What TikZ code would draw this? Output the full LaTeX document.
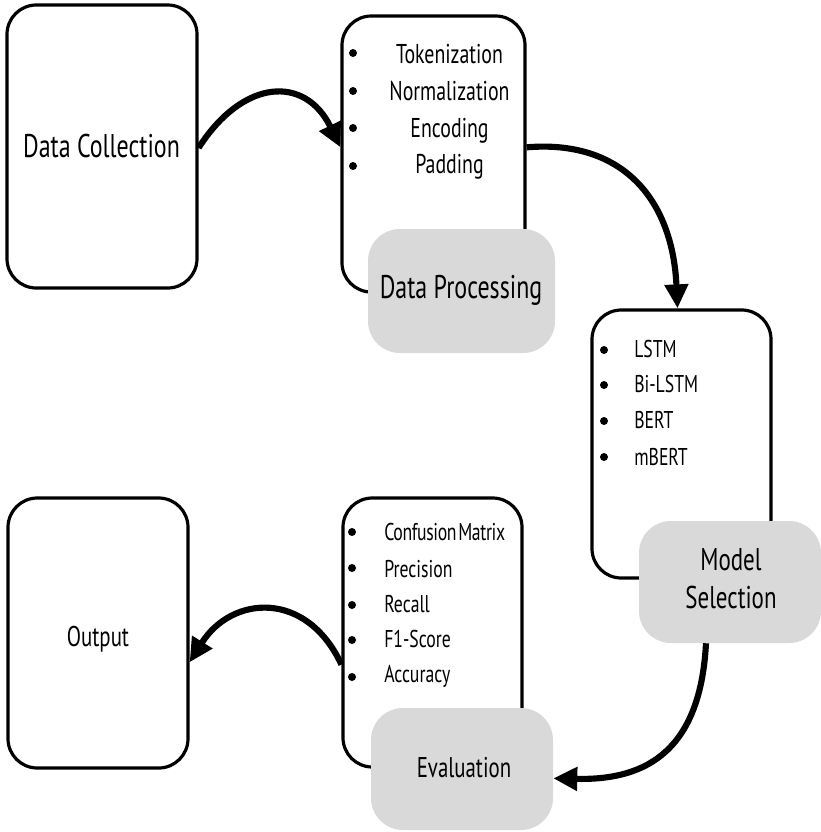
\documentclass[tikz,border=0pt]{standalone}
\usepackage{fontspec}
\usetikzlibrary{arrows.meta}
\newfontfamily\nf[FakeStretch=0.73]{PT Sans}
\definecolor{lblgrey}{HTML}{D9D9D9}
\begin{document}
\begin{tikzpicture}[x=0.75pt,y=-0.75pt,
  stepbox/.style={draw=black,line width=2.4pt,fill=white,rounded corners=22pt,inner sep=0pt},
  lblbox/.style={fill=lblgrey,draw=none,rounded corners=24pt,inner sep=0pt},
  bigtxt/.style={font=\nf\fontsize{24.6}{28}\selectfont,inner sep=0pt,anchor=base},
  midtxt/.style={font=\nf\fontsize{21.4}{25}\selectfont,inner sep=0pt,anchor=base},
  itemtxt/.style={font=\nf\fontsize{20.4}{24}\selectfont,inner sep=0pt,anchor=base},
  smalltxt/.style={font=\nf\fontsize{18.2}{22}\selectfont,inner sep=0pt,anchor=base west},
  bul/.style={circle,fill=black,inner sep=0pt,minimum size=6pt},
  conn/.style={line width=4.6pt,-{Triangle[length=18pt,width=17pt]}}]
\useasboundingbox (0,0) rectangle (821,832);

% boxes
\node[stepbox,minimum width=190*0.75pt,minimum height=283*0.75pt] (dc) at (102,146.5) {};
\node[stepbox,minimum width=183*0.75pt,minimum height=276*0.75pt] (dp) at (433.5,154) {};
\node[stepbox,minimum width=179*0.75pt,minimum height=268*0.75pt] (ms) at (681.5,444) {};
\node[stepbox,minimum width=179*0.75pt,minimum height=269*0.75pt] (ev) at (432.5,632.5) {};
\node[stepbox,minimum width=180*0.75pt,minimum height=270*0.75pt] (op) at (98,633) {};

% grey labels
\node[lblbox,minimum width=187*0.75pt,minimum height=124*0.75pt] (dpl) at (461.5,291) {};
\node[lblbox,minimum width=182*0.75pt,minimum height=122*0.75pt] (msl) at (730,582) {};
\node[lblbox,minimum width=182*0.75pt,minimum height=122*0.75pt] (evl) at (462,769) {};

% main texts
\node[bigtxt] (dct) at (101.5,157) {Data Collection};
\node[bigtxt] (dplt) at (461,298) {Data Processing};
\node[bigtxt,font=\nf\fontsize{23.6}{28}\selectfont] (mslt1) at (731,570) {Model};
\node[bigtxt,font=\nf\fontsize{23.6}{28}\selectfont] (mslt2) at (731,608) {Selection};
\node[midtxt] (evlt) at (464,777) {Evaluation};
\node[midtxt] (opt) at (98,646) {Output};

% data processing list
\node[itemtxt] (dp1) at (449.5,63) {Tokenization};
\node[itemtxt] (dp2) at (449.5,100) {Normalization};
\node[itemtxt] (dp3) at (449.5,137) {Encoding};
\node[itemtxt] (dp4) at (449.5,173) {Padding};
\node[bul] (dpb1) at (353,53) {};
\node[bul] (dpb2) at (353,91) {};
\node[bul] (dpb3) at (353,128) {};
\node[bul] (dpb4) at (353,166) {};

% model list
\node[smalltxt] (ms1) at (634,357) {LSTM};
\node[smalltxt] (ms2) at (634,392) {Bi-LSTM};
\node[smalltxt] (ms3) at (634,428) {BERT};
\node[smalltxt] (ms4) at (634,465) {mBERT};
\node[bul] (msb1) at (604,350) {};
\node[bul] (msb2) at (604,385) {};
\node[bul] (msb3) at (604,421) {};
\node[bul] (msb4) at (604,457) {};

% evaluation list
\node[smalltxt] (ev1) at (384,540) {\addfontfeature{LetterSpace=-1.5}Confusion\kern-2pt\ Matrix};
\node[smalltxt] (ev2) at (384,577) {Precision};
\node[smalltxt] (ev3) at (384,612) {Recall};
\node[smalltxt] (ev4) at (384,647) {F1-Score};
\node[smalltxt] (ev5) at (384,682) {Accuracy};
\node[bul] (evb1) at (352,532) {};
\node[bul] (evb2) at (352,568) {};
\node[bul] (evb3) at (352,605) {};
\node[bul] (evb4) at (352,640) {};
\node[bul] (evb5) at (352,677) {};

% connectors
\draw[conn] ([yshift=-1pt]dc.east) .. controls +(45,-70) and +(-35,-72) .. ([yshift=5pt]dp.west);
\draw[conn] ([yshift=5pt]dp.east) .. controls +(95,-8) and +(-5,-110) .. ([xshift=-3pt]ms.north);
\draw[conn] ([xshift=-18pt]msl.south) .. controls +(-6,115) and +(85,2) .. ([yshift=-7pt]evl.east);
\draw[conn] ([yshift=-24pt]ev.west) .. controls +(-35,-75) and +(42,-67) .. ([yshift=-22pt]op.east);
\end{tikzpicture}
\end{document}
